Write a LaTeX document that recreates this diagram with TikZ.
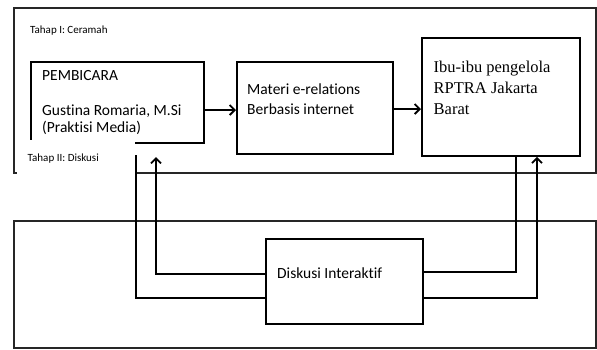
\documentclass[tikz,border=0pt]{standalone}
\usepackage{fontspec}
\setmainfont{Carlito}[Ligatures={NoCommon}]
\newfontfamily\ibufont{Liberation Serif}
\usetikzlibrary{arrows.meta}
\tikzset{
  outer/.style={line width=1.3pt, draw=black!85},
  box/.style={draw, line width=1.8pt, anchor=north west, inner sep=0pt},
  txt/.style={anchor=base west, inner sep=0pt, font=\fontsize{15.5}{18}\selectfont},
  serif/.style={anchor=base west, inner sep=0pt, font=\ibufont\fontsize{16.5}{20}\selectfont},
  small/.style={anchor=base west, inner sep=0pt, font=\fontsize{11}{13}\selectfont},
  conn/.style={line width=1.8pt},
  arr/.style={line width=1.8pt, -{Straight Barb[length=5pt,width=10pt]}},
}
\begin{document}
\begin{tikzpicture}[x=1pt,y=-1pt]
\useasboundingbox (0,0) rectangle (597,349);
% outer frames
\draw[outer] (14,8) rectangle (596,173);
\draw[outer] (14,221) rectangle (596,348);
% boxes
\node[box, minimum width=172.7pt, minimum height=80.7pt] (pem) at (30,61) {};
\node[box, minimum width=155.7pt, minimum height=91.7pt] (mat) at (236,61) {};
\node[box, minimum width=157.7pt, minimum height=118.3pt] (ibu) at (421,36.7) {};
\node[box, minimum width=157pt, minimum height=85pt] (dis) at (265,238.3) {};
% mask behind the second label
\node[fill=white, anchor=north west, inner sep=0pt, minimum width=118pt, minimum height=36pt] (mask) at (17,140) {};
% texts
\node[small] (t1) at (30,33.3) {Tahap I: Ceramah};
\node[small] (t2) at (27.5,161) {Tahap II: Diskusi};
\node[txt] (p1) at (42,80.7) {PEMBICARA};
\node[txt] (p2) at (42,115) {Gustina Romaria, M.Si};
\node[txt] (p3) at (42,132.7) {(Praktisi Media)};
\node[txt] (m1) at (247,94) {Materi e-relations};
\node[txt] (m2) at (247,114) {Berbasis internet};
\node[serif] (i1) at (433.5,72.7) {Ibu-ibu pengelola};
\node[serif] (i2) at (433.5,93.3) {RPTRA Jakarta};
\node[serif] (i3) at (433.5,114.3) {Barat};
\node[txt] (d1) at (277,278) {Diskusi Interaktif};
% helper coordinates
\coordinate (y110) at (0,110);
\coordinate (y109) at (0,109);
\coordinate (y298) at (0,298);
\coordinate (y274) at (0,274);
\coordinate (y272) at (0,272);
\coordinate (x516) at (516,0);
\coordinate (x537) at (537,0);
\coordinate (lstart) at (136,155);
\coordinate (ltip) at (156,157);
% connectors
\draw[arr] (pem.east |- y110) -- (mat.west |- y110);
\draw[arr] (mat.east |- y109) -- (ibu.west |- y109);
\draw[conn] (lstart) |- (dis.west |- y298);
\draw[arr] (dis.west |- y274) -| (ltip);
\draw[conn] (ibu.south -| x516) |- (dis.east |- y272);
\draw[arr] (dis.east |- y298) -| (ibu.south -| x537);
\end{tikzpicture}
\end{document}
